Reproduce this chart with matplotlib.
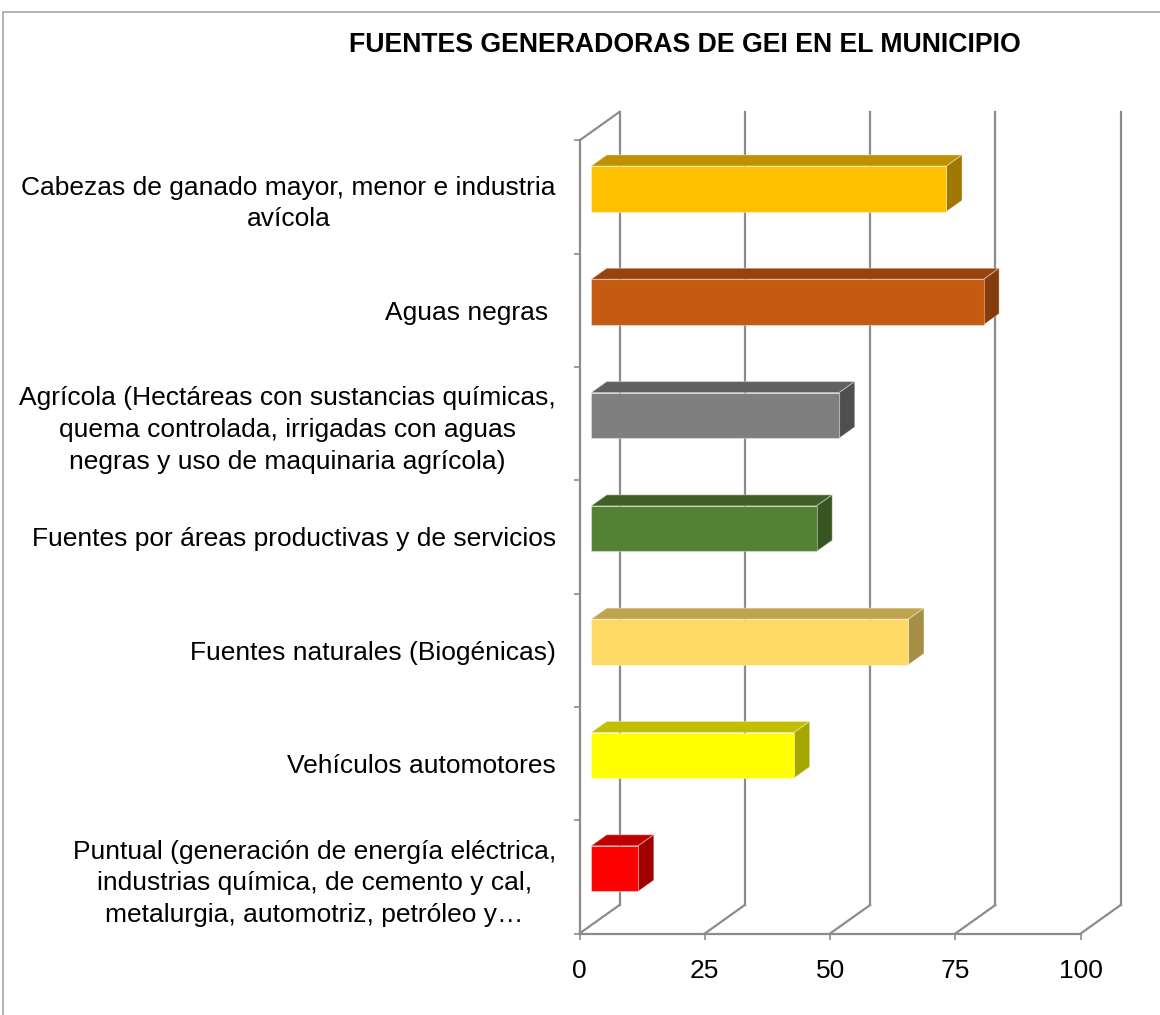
import matplotlib
matplotlib.use("Agg")
import matplotlib.pyplot as plt
from matplotlib.patches import Polygon, Rectangle
from matplotlib.lines import Line2D

plt.rcParams['font.family'] = ['Liberation Sans', 'DejaVu Sans']

# ---- data ----
title = "FUENTES GENERADORAS DE GEI EN EL MUNICIPIO"
categories = [
    "Cabezas de ganado mayor, menor e industria\navícola",
    "Aguas negras ",
    "Agrícola (Hectáreas con sustancias químicas,\nquema controlada, irrigadas con aguas\nnegras y uso de maquinaria agrícola)",
    "Fuentes por áreas productivas y de servicios",
    "Fuentes naturales (Biogénicas)",
    "Vehículos automotores",
    "Puntual (generación de energía eléctrica,\nindustrias química, de cemento y cal,\nmetalurgia, automotriz, petróleo y…",
]
values = [70.9, 78.3, 49.5, 45.0, 63.3, 40.5, 9.4]
x_ticks = [0, 25, 50, 75, 100]
front_colors = ["#FFC000", "#C55A11", "#7F7F7F", "#548235", "#FFD966", "#FFFF00", "#FF0000"]
top_colors = ["#C09000", "#96430D", "#606060", "#3F6128", "#C0A34D", "#C0C000", "#C00000"]
side_colors = ["#A07800", "#843C0C", "#4F4F4F", "#375623", "#A68F45", "#A6A600", "#A00000"]

W, H = 1160, 1015
fig = plt.figure(figsize=(W / 100, H / 100), dpi=100)
fig.patch.set_facecolor("white")

# outer chart border
fig.add_artist(Rectangle((3 / W, -0.01), 1.2, (1015 - 12) / H + 0.01, transform=fig.transFigure,
                         fill=False, edgecolor="#A6A6A6", linewidth=1.2))

x0, x1 = 579.5, 1080.7
ytop, ybot = 140.4, 933.5
ax = fig.add_axes([x0 / W, 1 - ybot / H, (x1 - x0) / W, (ybot - ytop) / H])
n = len(categories)
ax.set_xlim(0, 100)
ax.set_ylim(0, n)
for s in ax.spines.values():
    s.set_visible(False)
ax.patch.set_visible(False)

pxx = (x1 - x0) / 100.0
pxy = (ybot - ytop) / n
Dx = 40 / pxx
Dy = 28.5 / pxy
grid_c = "#8C8C8C"

# back wall gridlines
for v in x_ticks:
    ax.add_line(Line2D([v + Dx, v + Dx], [Dy, n + Dy], color=grid_c, lw=1.6, clip_on=False, zorder=1))
    ax.add_line(Line2D([v, v + Dx], [0, Dy], color=grid_c, lw=1.6, clip_on=False, zorder=1))
# front axes lines
ax.add_line(Line2D([0, 100], [0, 0], color=grid_c, lw=1.6, clip_on=False, zorder=1))
ax.add_line(Line2D([0, 0], [0, n], color=grid_c, lw=1.6, clip_on=False, zorder=1))
ax.add_line(Line2D([0, Dx], [n, n + Dy], color=grid_c, lw=1.6, clip_on=False, zorder=1))

# bars
f0, f1 = 0.29, 0.68
h = 45.5 / pxy
for i, v in enumerate(values):
    c = n - 0.5 - i
    lo, hi = c - h / 2, c + h / 2
    ox0, oy0 = f0 * Dx, f0 * Dy
    ox1, oy1 = f1 * Dx, f1 * Dy
    front = [(ox0, lo + oy0), (v + ox0, lo + oy0), (v + ox0, hi + oy0), (ox0, hi + oy0)]
    top = [(ox0, hi + oy0), (v + ox0, hi + oy0), (v + ox1, hi + oy1), (ox1, hi + oy1)]
    side = [(v + ox0, lo + oy0), (v + ox1, lo + oy1), (v + ox1, hi + oy1), (v + ox0, hi + oy0)]
    for poly, col in ((top, top_colors[i]), (side, side_colors[i]), (front, front_colors[i])):
        ax.add_patch(Polygon(poly, closed=True, facecolor=col, edgecolor=(1, 1, 1, 0.35),
                             linewidth=0.8, clip_on=False, zorder=3))

# ticks and labels
ax.set_xticks(x_ticks)
ax.set_xticklabels([str(t) for t in x_ticks], fontsize=19)
ax.tick_params(axis="x", length=4, width=1.2, color=grid_c, pad=14)
ax.set_yticks([n - 0.5 - i for i in range(n)])
ax.set_yticklabels(categories, fontsize=19, multialignment="center", linespacing=1.4)
ax.tick_params(axis="y", length=0, pad=17)
ax.set_yticks(list(range(n + 1)), minor=True)
ax.tick_params(axis="y", which="minor", length=4, width=1.2, color=grid_c)

fig.text(684.5 / W, 1 - 45 / H, title, fontsize=19.2, fontweight="bold", ha="center", va="center")

fig.savefig("out.png", dpi=100)
